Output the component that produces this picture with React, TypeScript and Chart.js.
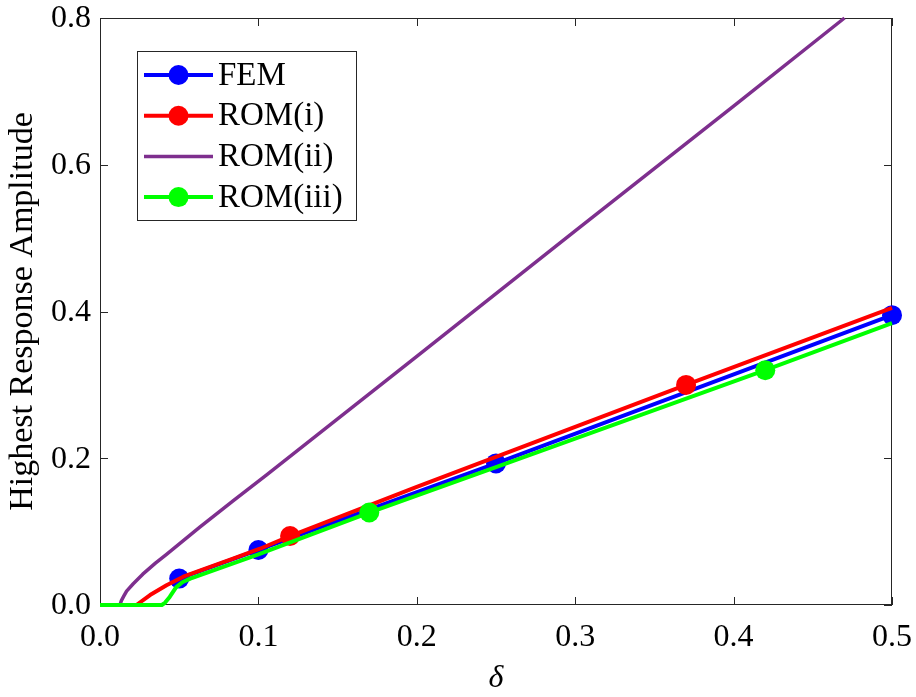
import React, { useEffect, useRef } from "react";
import { Chart, registerables } from "chart.js";
Chart.register(...registerables);

const xTicks = [0, 0.1, 0.2, 0.3, 0.4, 0.5];
const yTicks = [0, 0.2, 0.4, 0.6, 0.8];
const xTitle = "δ";
const yTitle = "Highest Response Amplitude";

const seriesNames = ["FEM", "ROM(i)", "ROM(ii)", "ROM(iii)"];
const seriesColors = ["#0000FF", "#FF0000", "#7E2F8E", "#00FF00"];

const femX = [0.05, 0.1, 0.25, 0.5];
const femY = [0.036, 0.075, 0.193, 0.395];
const femMarkers = [0.05, 0.1, 0.25, 0.5];

const rom1X = [0, 0.023, 0.0316, 0.042, 0.0526, 0.063, 0.084, 0.101, 0.12, 0.2, 0.37, 0.5];
const rom1Y = [0, 0, 0.0136, 0.027, 0.0386, 0.0468, 0.0633, 0.0767, 0.094, 0.161, 0.3, 0.405];
const rom1Markers = [0.12, 0.37];

const rom2X = [0, 0.0126, 0.0135, 0.015, 0.0168, 0.021, 0.027, 0.035, 0.042, 0.063, 0.084, 0.105, 0.2, 0.3, 0.4, 0.47];
const rom2Y = [0, 0, 0.006, 0.012, 0.019, 0.029, 0.042, 0.057, 0.069, 0.106, 0.142, 0.177, 0.339, 0.51, 0.68, 0.8];
const rom2Markers: number[] = [];

const rom3X = [0, 0.039, 0.041, 0.044, 0.048, 0.052, 0.057, 0.065, 0.1, 0.17, 0.25, 0.42, 0.5];
const rom3Y = [0, 0, 0.003, 0.011, 0.024, 0.031, 0.036, 0.042, 0.069, 0.126, 0.188, 0.32, 0.384];
const rom3Markers = [0.17, 0.42];

const FONT = "'Liberation Serif', 'Times New Roman', serif";

function makeDataset(i: number, xs: number[], ys: number[], markers: number[], width: number) {
  return {
    label: seriesNames[i],
    data: xs.map((x, k) => ({ x, y: ys[k] })),
    borderColor: seriesColors[i],
    backgroundColor: seriesColors[i],
    borderWidth: width,
    borderJoinStyle: "round",
    pointRadius: xs.map((x) => (markers.includes(x) ? 10 : 0)),
    pointHoverRadius: 0,
    pointBorderWidth: 0,
    pointBackgroundColor: seriesColors[i],
    tension: 0,
    clip: false as any,
    order: 4 - i,
    showLine: true,
  };
}

const framePlugin = {
  id: "frame",
  beforeDatasetsDraw(chart: any) {
    const { ctx, chartArea } = chart;
    const { left, right, top, bottom } = chartArea;
    const xs = chart.scales.x;
    const ys = chart.scales.y;
    ctx.save();
    ctx.strokeStyle = "#262626";
    ctx.lineWidth = 1;
    ctx.strokeRect(left + 0.5, top + 0.5, right - left - 1, bottom - top - 1);
    const L = 8;
    ctx.beginPath();
    xTicks.forEach((v) => {
      const px = Math.round(xs.getPixelForValue(v)) + 0.5;
      ctx.moveTo(px, bottom);
      ctx.lineTo(px, bottom - L);
      ctx.moveTo(px, top);
      ctx.lineTo(px, top + L);
    });
    yTicks.forEach((v) => {
      const py = Math.round(ys.getPixelForValue(v)) + 0.5;
      ctx.moveTo(left, py);
      ctx.lineTo(left + L, py);
      ctx.moveTo(right, py);
      ctx.lineTo(right - L, py);
    });
    ctx.stroke();

    // tick labels
    ctx.fillStyle = "#000";
    ctx.font = `32px ${FONT}`;
    ctx.textBaseline = "middle";
    ctx.textAlign = "right";
    yTicks.forEach((v) => {
      ctx.fillText(v.toFixed(1), left - 9, ys.getPixelForValue(v) + 1);
    });
    ctx.textAlign = "center";
    xTicks.forEach((v) => {
      ctx.fillText(v.toFixed(1), xs.getPixelForValue(v), bottom + 33);
    });

    // axis titles
    ctx.font = `italic 32px ${FONT}`;
    ctx.fillText(xTitle, (left + right) / 2, bottom + 74);
    ctx.save();
    ctx.translate(23.5, (top + bottom) / 2);
    ctx.rotate(-Math.PI / 2);
    ctx.font = `34px ${FONT}`;
    ctx.textAlign = "center";
    ctx.textBaseline = "middle";
    ctx.fillText(yTitle, 0, 0);
    ctx.restore();
    ctx.restore();
  },
};

const legendPlugin = {
  id: "boxLegend",
  afterDraw(chart: any) {
    const { ctx, chartArea } = chart;
    const bx = chartArea.left + 37;
    const by = chartArea.top + 33;
    const bw = 220;
    const bh = 170;
    ctx.save();
    ctx.fillStyle = "#ffffff";
    ctx.fillRect(bx, by, bw, bh);
    ctx.strokeStyle = "#262626";
    ctx.lineWidth = 1;
    ctx.strokeRect(bx + 0.5, by + 0.5, bw - 1, bh - 1);
    const markerFlags = [true, true, false, true];
    seriesNames.forEach((name, i) => {
      const cy = by + 24 + i * 40.7;
      ctx.strokeStyle = seriesColors[i];
      ctx.lineWidth = i === 2 ? 3.5 : 4;
      ctx.beginPath();
      ctx.moveTo(bx + 7, cy);
      ctx.lineTo(bx + 76, cy);
      ctx.stroke();
      if (markerFlags[i]) {
        ctx.fillStyle = seriesColors[i];
        ctx.beginPath();
        ctx.arc(bx + 41.5, cy, 10, 0, Math.PI * 2);
        ctx.fill();
      }
      ctx.fillStyle = "#000";
      ctx.font = `33px ${FONT}`;
      ctx.textBaseline = "middle";
      ctx.textAlign = "left";
      ctx.fillText(name, bx + 81, cy + 1);
    });
    ctx.restore();
  },
};

export default function App() {
  const ref = useRef<HTMLCanvasElement>(null);
  useEffect(() => {
    if (!ref.current) return;
    const chart = new Chart(ref.current, {
      type: "line",
      data: {
        datasets: [
          makeDataset(0, femX, femY, femMarkers, 4),
          makeDataset(1, rom1X, rom1Y, rom1Markers, 4),
          makeDataset(2, rom2X, rom2Y, rom2Markers, 3.5),
          makeDataset(3, rom3X, rom3Y, rom3Markers, 4),
        ] as any,
      },
      options: {
        animation: false,
        responsive: false,
        events: [],
        layout: { padding: { top: 18, right: 24, left: 100, bottom: 92 } },
        plugins: { legend: { display: false }, tooltip: { enabled: false } },
        scales: {
          x: { type: "linear", min: 0, max: 0.5, display: false },
          y: { type: "linear", min: 0, max: 0.8, display: false },
        },
      },
      plugins: [framePlugin, legendPlugin],
    });
    return () => chart.destroy();
  }, []);
  return (
    <div style={{ position: "fixed", left: 0, top: 0, width: 916, height: 697, background: "#fff" }}>
      <canvas ref={ref} width={916} height={697} style={{ display: "block" }} />
    </div>
  );
}
